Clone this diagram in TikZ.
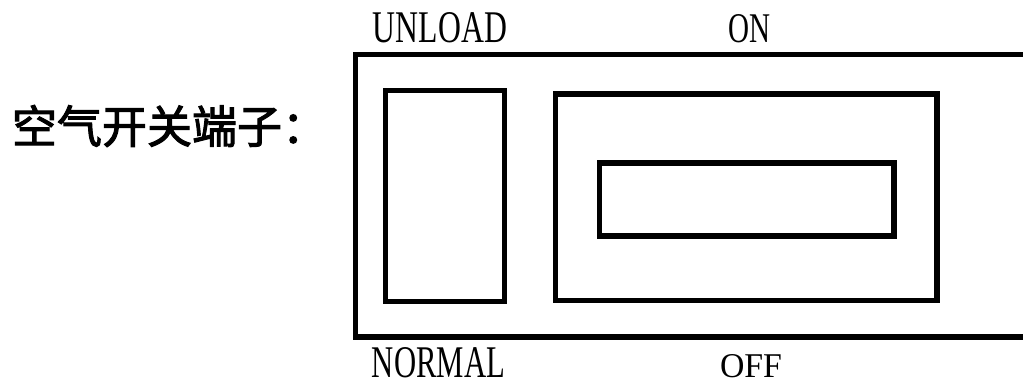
\documentclass[tikz,border=0pt]{standalone}
\usepackage{fontspec}
\usepackage{graphicx}
\setmainfont{Liberation Serif}
\newfontfamily\cjk[FakeBold=2.3]{Noto Sans CJK SC}
\usetikzlibrary{positioning}

\begin{document}
\begin{tikzpicture}[
  x=0.5pt, y=-0.5pt,
  every node/.style={inner sep=0pt, outer sep=0pt},
  frame/.style={draw=black, line width=2.8pt},
  caption/.style={font=\fontsize{22.5pt}{26pt}\selectfont\cjk, anchor=west}
]
\useasboundingbox (0,0) rectangle (1023,385);
\clip (0,0) rectangle (1023,385);

% switch body
\draw[frame] (355.5,54.5) rectangle (1060,337);
\draw[frame] (385.5,90.5) rectangle (504.5,301.5);
\draw[frame] (555.5,94) rectangle (937,300.5);
\draw[frame] (599.5,163) rectangle (894,236);

% labels
\node (unload) at (440,28) {\resizebox{67pt}{15pt}{UNLOAD}};
\node (on) at (749,29) {\resizebox{21pt}{14pt}{ON}};
\node (normal) at (438.5,363) {\resizebox{66.5pt}{15pt}{NORMAL}};
\node (off) at (751,366.5) {\resizebox{31pt}{11.5pt}{OFF}};
\node[caption] (title) at (12,126) {空气开关端子：};

\end{tikzpicture}
\end{document}
